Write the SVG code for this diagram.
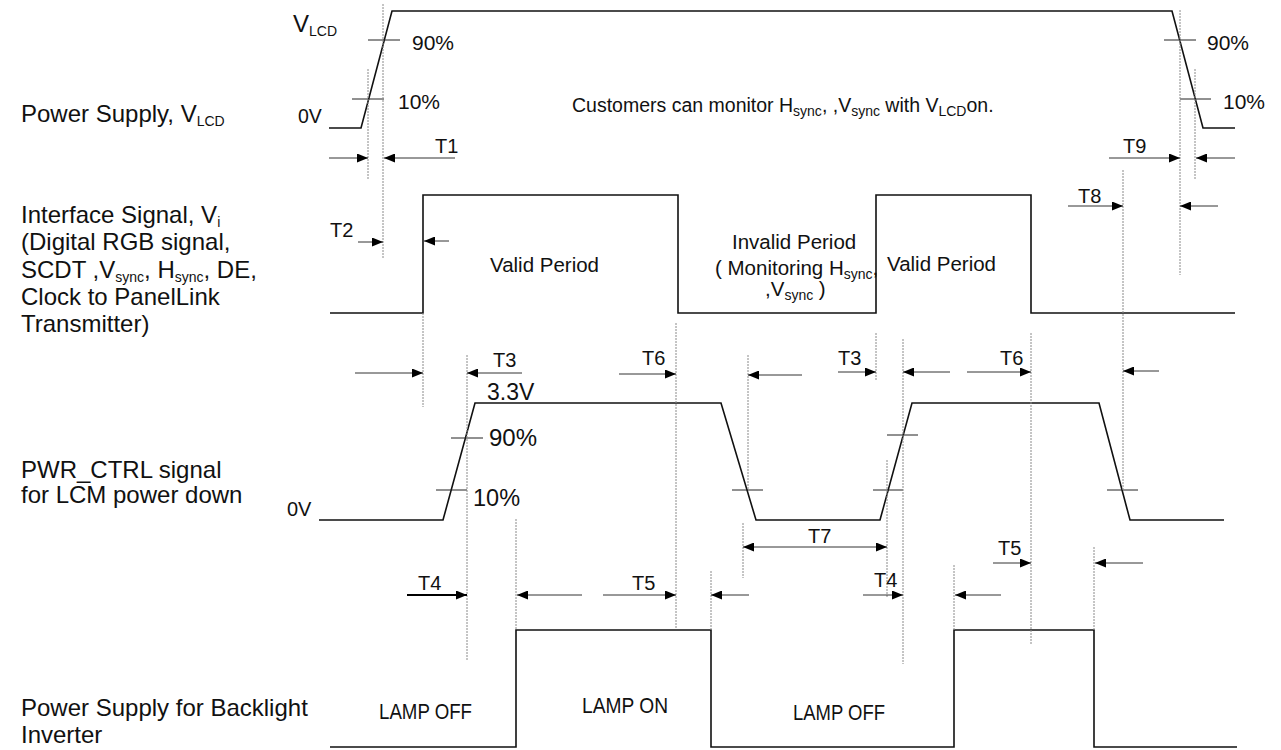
<svg xmlns="http://www.w3.org/2000/svg" width="1281" height="750" viewBox="0 0 1281 750">
<style>
text{font-family:"Liberation Sans",Arial,sans-serif;fill:#111}
.lbl{font-size:24px}
.per{font-size:20.5px}
.t{font-size:20px}
.pct{font-size:21px}
.lamp{font-family:"Liberation Sans Narrow","Liberation Sans",sans-serif;font-size:22px}
.sub{font-size:14px}
.wave{fill:none;stroke:#111;stroke-width:1.6}
.tick{stroke:#222;stroke-width:1}
.dash{fill:none;stroke:#8a8a8a;stroke-width:1;stroke-dasharray:2 1}
.arr{fill:none;stroke:#333;stroke-width:1;marker-end:url(#ah)}
</style>
<defs>
<marker id="ah" viewBox="0 0 11 9" refX="11" refY="4.5" markerWidth="11" markerHeight="9" markerUnits="userSpaceOnUse" orient="auto">
<path d="M0,0 L11,4.5 L0,9 z" fill="#000"/>
</marker>
<marker id="ahs" viewBox="0 0 11 9" refX="0" refY="4.5" markerWidth="11" markerHeight="9" markerUnits="userSpaceOnUse" orient="auto">
<path d="M11,0 L0,4.5 L11,9 z" fill="#000"/>
</marker>
</defs>
<rect width="1281" height="750" fill="#fff"/>

<g id="labels-left">
<text class="lbl" x="21" y="122">Power Supply, V<tspan class="sub" dy="4">LCD</tspan></text>
<text class="lbl" x="21" y="223">Interface Signal, V<tspan class="sub" dy="4">i</tspan></text>
<text class="lbl" x="21" y="250">(Digital RGB signal,</text>
<text class="lbl" x="21" y="278">SCDT ,V<tspan class="sub" dy="4">sync</tspan><tspan dy="-4">, H</tspan><tspan class="sub" dy="4">sync</tspan><tspan dy="-4">, DE,</tspan></text>
<text class="lbl" x="21" y="305">Clock to PanelLink</text>
<text class="lbl" x="21" y="332">Transmitter)</text>
<text class="lbl" x="21" y="478">PWR_CTRL signal</text>
<text class="lbl" x="21" y="503">for LCM power down</text>
<text class="lbl" x="21" y="716">Power Supply for Backlight</text>
<text class="lbl" x="21" y="743">Inverter</text>
</g>

<g id="vlcd">
<path class="wave" d="M329,128 H361 L392,11 H1172 L1203,128 H1235"/>
<path class="tick" d="M368,40 H400 M352,99 H384 M1164,40 H1196 M1180,99 H1211"/>
<text class="lbl" x="293" y="32">V<tspan class="sub" dy="4">LCD</tspan></text>
<text class="pct" x="412" y="50">90%</text>
<text class="pct" x="398" y="109">10%</text>
<text style="font-size:19.5px" x="298" y="123">0V</text>
<text class="pct" x="1207" y="50">90%</text>
<text class="pct" x="1223" y="109">10%</text>
<text style="font-size:19.5px" x="572" y="112">Customers can monitor H<tspan class="sub" dy="4">sync</tspan><tspan dy="-4">, ,V</tspan><tspan class="sub" dy="4">sync</tspan><tspan dy="-4"> with V</tspan><tspan class="sub" dy="4">LCD</tspan><tspan dy="-4">on.</tspan></text>
</g>

<g id="interface">
<path class="wave" d="M330,313 H423 V195 H678 V313 H876 V195 H1031 V313 H1235"/>
<text class="per" x="490" y="272">Valid Period</text>
<text class="per" x="732" y="249">Invalid Period</text>
<text class="per" x="715" y="275">( Monitoring H<tspan class="sub" dy="4">sync</tspan><tspan dy="-4">,</tspan></text>
<text class="per" x="765" y="296">,V<tspan class="sub" dy="4">sync</tspan><tspan dy="-4"> )</tspan></text>
<text class="per" x="887" y="271">Valid Period</text>
</g>

<g id="pwr-ctrl">
<path class="wave" d="M319,520 H443 L475,403 H721 L756,520 H880 L912,403 H1099 L1130,520 H1224"/>
<path class="tick" d="M451,438 H483 M436,490 H467 M732,490 H763 M887,435 H918 M873,490 H903 M1107,490 H1138"/>
<text style="font-size:23px" x="487" y="400">3.3V</text>
<text style="font-size:24px" x="489" y="446">90%</text>
<text style="font-size:23.5px" x="473" y="506">10%</text>
<text style="font-size:20px" x="287" y="516">0V</text>
</g>

<g id="backlight">
<path class="wave" d="M330,747 H516 V630 H711 V747 H954 V630 H1094 V747 H1237"/>
<text class="lamp" x="379" y="719" textLength="93" lengthAdjust="spacingAndGlyphs">LAMP OFF</text>
<text class="lamp" x="582" y="713" textLength="86" lengthAdjust="spacingAndGlyphs">LAMP ON</text>
<text class="lamp" x="793" y="720" textLength="92" lengthAdjust="spacingAndGlyphs">LAMP OFF</text>
</g>

<g id="guides">
<path class="dash" d="M368,69 V180 M383,4 V258 M1180,10 V275 M1195,69 V180 M1123,170 V490 M423,313 V407 M467,355 V661 M676,323 V628 M748,355 V490 M743,523 V578 M711,571 V630 M516,519 V630 M876,333 V380 M903,339 V664 M887,460 V598 M954,565 V630 M1031,333 V645 M1094,547 V630"/>
</g>

<g id="connectors">
<path class="arr" d="M329,158 H368"/>
<path class="arr" d="M455,158 H384"/>
<path class="arr" d="M1109,158 H1180"/>
<path class="arr" d="M1235,158 H1196"/>
<path class="arr" d="M358,242 H383"/>
<path class="arr" d="M449,241 H424"/>
<path class="arr" d="M1068,206 H1123"/>
<path class="arr" d="M1218,206 H1180"/>
<path class="arr" d="M355,373 H423"/>
<path class="arr" d="M522,373 H467"/>
<path class="arr" d="M619,374 H676"/>
<path class="arr" d="M802,375 H748"/>
<path class="arr" d="M838,372 H876"/>
<path class="arr" d="M950,372 H903"/>
<path class="arr" d="M967,372 H1031"/>
<path class="arr" d="M1159,371 H1123"/>
<path class="arr" d="M743,547 H887" style="marker-start:url(#ahs)"/>
<path class="arr" d="M407,595 H467" style="stroke:#000;stroke-width:2"/>
<path class="arr" d="M582,595 H517"/>
<path class="arr" d="M603,595 H676"/>
<path class="arr" d="M749,595 H711"/>
<path class="arr" d="M863,595 H903"/>
<path class="arr" d="M1001,595 H955"/>
<path class="arr" d="M993,563 H1031"/>
<path class="arr" d="M1143,563 H1095"/>
</g>

<g id="timing-labels">
<text class="t" x="435" y="153">T1</text>
<text class="t" x="1123" y="153">T9</text>
<text class="t" x="330" y="237">T2</text>
<text class="t" x="1078" y="203">T8</text>
<text class="t" x="493" y="367">T3</text>
<text class="t" x="642" y="365">T6</text>
<text class="t" x="838" y="365">T3</text>
<text class="t" x="1000" y="365">T6</text>
<text class="t" x="808" y="543">T7</text>
<text class="t" x="418" y="590">T4</text>
<text class="t" x="632" y="590">T5</text>
<text class="t" x="874" y="587">T4</text>
<text class="t" x="998" y="555">T5</text>
</g>
</svg>
